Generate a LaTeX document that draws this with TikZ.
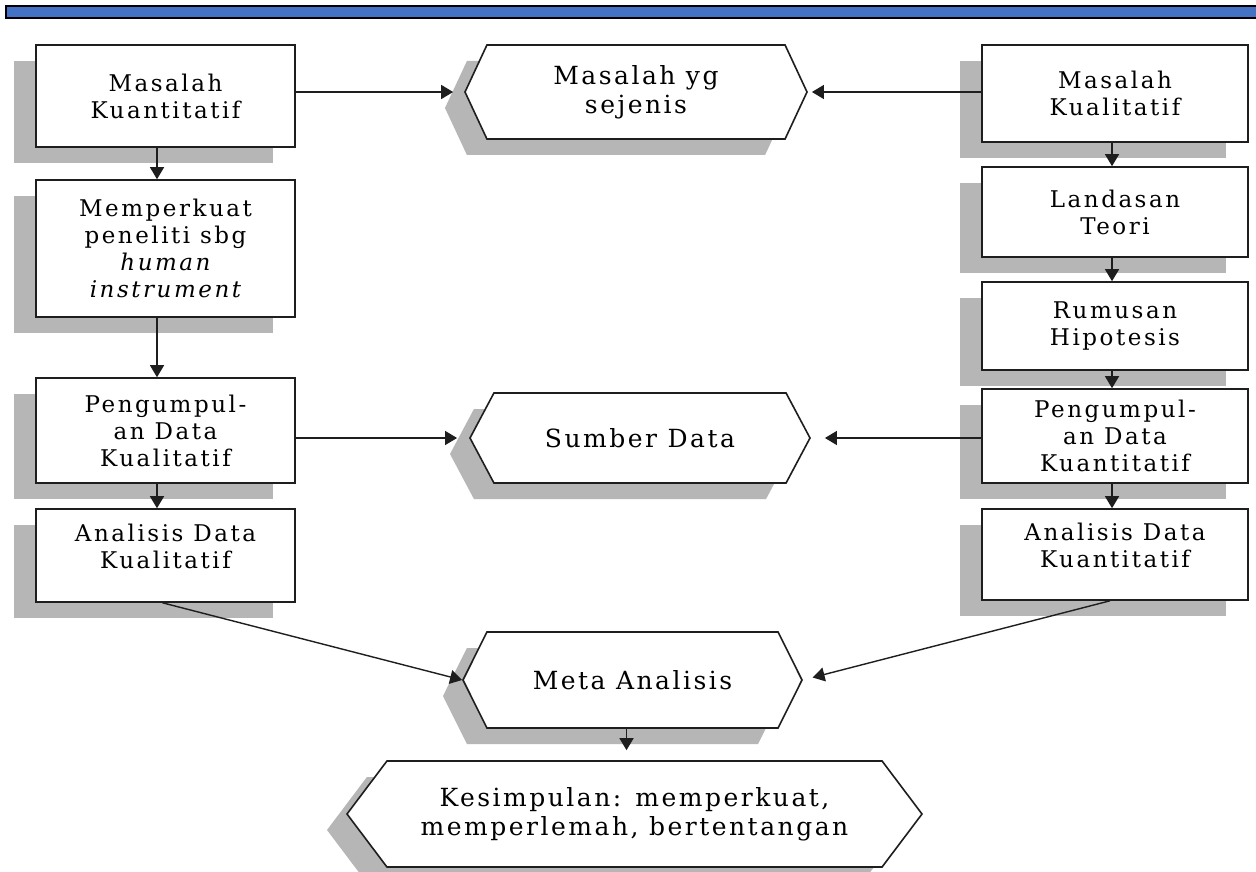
\documentclass[tikz,border=0pt]{standalone}
\usepackage{fontspec}
\setmainfont{DejaVu Serif}
\newfontfamily\boxfont[LetterSpace=11]{DejaVu Serif}
\newfontfamily\hexfont[LetterSpace=10]{DejaVu Serif}
\usetikzlibrary{shapes.symbols,shadows,arrows.meta,calc}
\definecolor{barblue}{RGB}{68,114,196}
\definecolor{shade}{RGB}{182,182,182}
\definecolor{edge}{RGB}{30,30,30}
\tikzset{
  boxnode/.style={rectangle, draw=edge, line width=1.6pt, fill=white, inner sep=2pt,
    align=center, font=\boxfont\fontsize{23}{27}\selectfont,
    general shadow={fill=shade, shadow xshift=-22pt, shadow yshift=-16pt}},
  hexnode/.style={signal, signal to=west and east, draw=edge, line width=1.6pt, fill=white,
    inner sep=2pt, align=center, font=\hexfont\fontsize{25}{29}\selectfont,
    general shadow={fill=shade, shadow xshift=-20pt, shadow yshift=-16pt}},
  arr/.style={-{Triangle[width=14pt,length=12pt]}, line width=1.4pt, draw=edge},
}
\begin{document}
\begin{tikzpicture}[x=1pt,y=-1pt]
\useasboundingbox (0,0) rectangle (1256,872);
\fill[white] (0,0) rectangle (1256,872);
% top bar
\draw[fill=barblue, line width=1.6pt, draw=black] (6,6) rectangle (1262,18);

% left column
\node[boxnode, minimum width=259pt, minimum height=102pt] (l1) at (165.5,96) {Masalah\\Kuantitatif};
\node[boxnode, minimum width=259pt, minimum height=137pt] (l2) at (165.5,248.5) {Memperkuat\\peneliti sbg\\{\itshape human}\\{\itshape instrument}};
\node[boxnode, minimum width=259pt, minimum height=105pt] (l3) at (165.5,430.5) {Pengumpul-\\an Data\\Kualitatif};
\node[boxnode, minimum width=259pt, minimum height=93pt] (l4) at (165.5,555.5) {Analisis Data\\Kualitatif\\[-8pt]~};

% right column
\node[boxnode, minimum width=266pt, minimum height=97pt] (r1) at (1115,93.5) {Masalah\\Kualitatif};
\node[boxnode, minimum width=266pt, minimum height=90pt] (r2) at (1115,212) {Landasan\\Teori};
\node[boxnode, minimum width=266pt, minimum height=88pt] (r3) at (1115,326) {Rumusan\\Hipotesis};
\node[boxnode, minimum width=266pt, minimum height=94pt] (r4) at (1115,436) {Pengumpul-\\an Data\\Kuantitatif};
\node[boxnode, minimum width=266pt, minimum height=91pt] (r5) at (1115,554.5) {Analisis Data\\Kuantitatif\\[-8pt]~};

% hexagons
\node[hexnode, signal pointer angle=130, minimum width=342pt, minimum height=94pt] (h1) at (636,92) {Masalah yg\\sejenis};
\node[hexnode, signal pointer angle=124, minimum width=340pt, minimum height=90pt] (h2) at (640,438) {Sumber Data};
\node[hexnode, signal pointer angle=127, minimum width=339pt, minimum height=96pt] (h3) at (632.5,680) {Meta Analisis};
\node[hexnode, signal pointer angle=106, minimum width=575pt, minimum height=106pt] (h4) at (634.5,814) {Kesimpulan: memperkuat,\\memperlemah, bertentangan};

% connectors
\draw[arr] ([xshift=-8.5pt]l1.south) -- ([xshift=-8.5pt]l2.north);
\draw[arr] ([xshift=-8.5pt]l2.south) -- ([xshift=-8.5pt]l3.north);
\draw[arr] ([xshift=-8.5pt]l3.south) -- ([xshift=-8.5pt]l4.north);
\draw[arr] ([xshift=-3pt]r1.south) -- ([xshift=-3pt]r2.north);
\draw[arr] ([xshift=-3pt]r2.south) -- ([xshift=-3pt]r3.north);
\draw[arr] ([xshift=-3pt]r3.south) -- ([xshift=-3pt]r4.north);
\draw[arr] ([xshift=-3pt]r4.south) -- ([xshift=-3pt]r5.north);

\draw[arr, shorten >=11pt] (l1.east |- h1.west) -- (h1.west);
\draw[arr, shorten >=4pt] (r1.west |- h1.east) -- (h1.east);
\draw[arr, shorten >=12pt] (l3.east |- h2.west) -- (h2.west);
\draw[arr, shorten >=14pt] (r4.west |- h2.east) -- (h2.east);

\draw[arr] ([xshift=-3pt]l4.south) -- (h3.west);
\draw[arr, shorten >=10pt] ([xshift=-5pt]r5.south) -- (h3.east);
\draw[arr, shorten >=10pt] ([xshift=-6pt]h3.south) -- ([xshift=-6pt]h3.south |- h4.north);
\end{tikzpicture}
\end{document}
